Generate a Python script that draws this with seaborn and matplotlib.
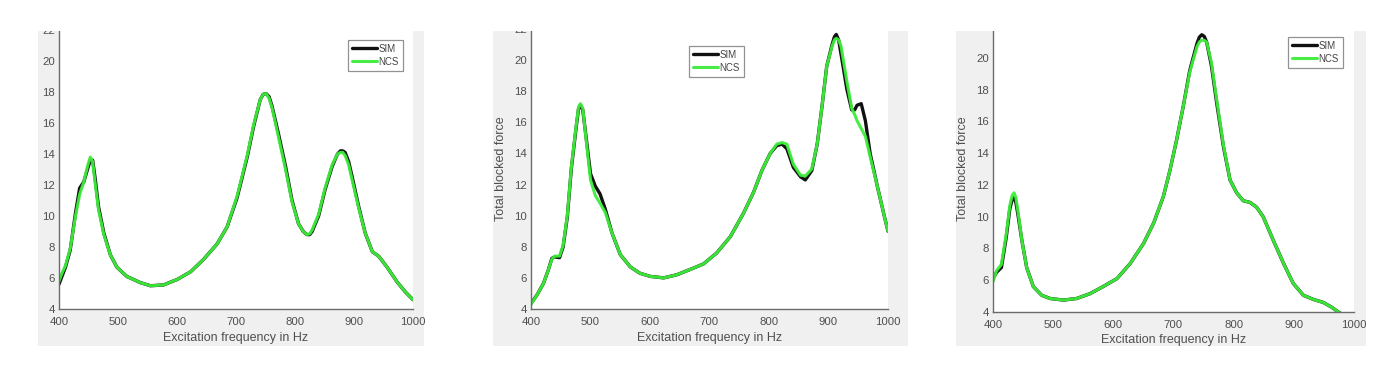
import matplotlib
matplotlib.use("Agg")
import matplotlib.pyplot as plt
from matplotlib.patches import Rectangle
import seaborn as sns

sns.set_style("white")
plt.rcParams['font.family'] = ['Liberation Sans', 'DejaVu Sans']

# ---------------- data ----------------
freq1 = [400, 405, 411, 419, 428, 435, 442, 449, 453, 457, 461, 467, 476, 487, 498, 515, 538, 555, 577,
         600, 623, 645, 668, 685, 702, 719, 730, 741, 746, 751, 756, 761, 772, 784, 795, 806, 814, 820,
         825, 829, 840, 851, 863, 872, 877, 881, 885, 891, 897, 908, 919, 931, 942, 956, 973, 987, 1000]
sim1 = [5.6, 6.1, 6.7, 7.8, 10.2, 11.8, 12.2, 13.1, 13.6, 13.6, 12.5, 10.6, 8.9, 7.5, 6.7, 6.1, 5.7, 5.5, 5.55,
        5.9, 6.4, 7.2, 8.2, 9.3, 11.2, 13.8, 15.8, 17.5, 17.85, 17.9, 17.7, 17.1, 15.3, 13.2, 11.0, 9.5, 9.0, 8.8,
        8.8, 9.0, 10.0, 11.7, 13.2, 14.0, 14.2, 14.2, 14.1, 13.5, 12.5, 10.6, 8.9, 7.7, 7.4, 6.7, 5.75, 5.1, 4.6]
ncs1 = [5.8, 6.3, 6.8, 7.9, 10.0, 11.4, 12.2, 13.3, 13.8, 13.5, 12.2, 10.4, 8.8, 7.5, 6.7, 6.1, 5.7, 5.5, 5.55,
        5.9, 6.4, 7.2, 8.2, 9.3, 11.3, 13.9, 15.9, 17.5, 17.85, 17.9, 17.6, 17.0, 15.1, 13.0, 10.9, 9.5, 9.0, 8.8,
        8.85, 9.1, 10.1, 11.8, 13.3, 14.0, 14.1, 14.1, 13.9, 13.3, 12.3, 10.5, 8.9, 7.7, 7.4, 6.7, 5.75, 5.1, 4.6]

freq2 = [400, 410, 421, 429, 435, 440, 448, 454, 461, 468, 476, 480, 483, 487, 494, 500, 508, 516, 525, 536,
         550, 567, 583, 600, 623, 645, 668, 690, 712, 735, 757, 774, 788, 802, 813, 822, 830, 841, 853,
         861, 872, 881, 889, 897, 906, 910, 913, 917, 921, 931, 939, 944, 948, 955, 962, 970, 982, 993, 1000]
sim2 = [4.35, 4.9, 5.65, 6.5, 7.25, 7.35, 7.3, 8.0, 9.9, 13.1, 15.7, 16.9, 17.1, 16.8, 14.6, 12.7, 11.9, 11.4,
        10.4, 8.9, 7.5, 6.7, 6.3, 6.1, 6.0, 6.2, 6.55, 6.9, 7.6, 8.65, 10.15, 11.5, 12.9, 14.0, 14.5, 14.6,
        14.3, 13.1, 12.5, 12.3, 12.9, 14.6, 17.0, 19.6, 21.0, 21.5, 21.65, 21.3, 20.4, 18.1, 16.8, 16.8, 17.1,
        17.2, 16.1, 14.0, 11.9, 10.1, 9.0]
ncs2 = [4.3, 4.9, 5.65, 6.5, 7.2, 7.4, 7.4, 8.1, 10.0, 13.2, 15.8, 17.0, 17.2, 16.9, 14.4, 12.3, 11.3, 10.8,
        10.2, 8.9, 7.5, 6.7, 6.3, 6.1, 6.0, 6.2, 6.55, 6.9, 7.6, 8.65, 10.15, 11.5, 12.9, 14.0, 14.6, 14.7,
        14.6, 13.3, 12.6, 12.55, 13.0, 14.6, 17.0, 19.6, 20.9, 21.3, 21.4, 21.3, 20.9, 18.6, 16.9, 16.5, 16.1,
        15.6, 15.1, 13.8, 11.9, 10.1, 9.0]

freq3 = [400, 406, 414, 422, 428, 432, 435, 438, 442, 448, 456, 467, 481, 495, 517, 539, 561, 583, 606, 628, 650,
         667, 683, 694, 705, 716, 727, 739, 743, 747, 751, 755, 763, 772, 783, 794, 805, 816, 827, 838, 849, 866,
         883, 899, 916, 932, 949, 963, 974, 987, 1000]
sim3 = [6.1, 6.5, 6.8, 8.7, 10.5, 11.1, 11.2, 10.9, 10.0, 8.5, 6.8, 5.6, 5.05, 4.85, 4.75, 4.85, 5.15, 5.6, 6.1,
        7.05, 8.3, 9.6, 11.25, 12.9, 14.8, 16.9, 19.2, 20.9, 21.3, 21.45, 21.35, 21.0, 19.5, 17.1, 14.4, 12.3,
        11.5, 11.0, 10.9, 10.6, 10.0, 8.5, 7.05, 5.8, 5.05, 4.8, 4.6, 4.3, 4.0, 3.7, 3.4]
ncs3 = [5.9, 6.6, 7.0, 8.9, 10.7, 11.35, 11.5, 11.2, 10.2, 8.5, 6.8, 5.6, 5.05, 4.85, 4.75, 4.85, 5.15, 5.6, 6.1,
        7.05, 8.3, 9.6, 11.25, 12.9, 14.8, 16.9, 19.1, 20.7, 21.0, 21.1, 21.1, 21.0, 19.7, 17.3, 14.5, 12.3,
        11.5, 11.0, 10.9, 10.6, 10.0, 8.5, 7.05, 5.8, 5.05, 4.8, 4.6, 4.3, 4.0, 3.7, 3.4]

xticks = [400, 500, 600, 700, 800, 900, 1000]
series_labels = ["SIM", "NCS"]
xlabel = "Excitation frequency in Hz"
ylabel = "Total blocked force"

# ---------------- layout ----------------
W, H = 1400, 368
fig = plt.figure(figsize=(W / 100, H / 100), dpi=100)
fig.patch.set_facecolor("white")

def fx(px):
    return px / W

def fy(py):
    return 1 - py / H

panels = [
    dict(gray=(38, 31, 424, 346), ax=(59, 413, 309, 30), leg=(348, 40),
         data=(freq1, sim1, ncs1), ylab=False, yticks=[4, 6, 8, 10, 12, 14, 16, 18, 20, 22]),
    dict(gray=(493, 31, 908, 346), ax=(531, 888, 309, 29), leg=(689, 46),
         data=(freq2, sim2, ncs2), ylab=True, yticks=[4, 6, 8, 10, 12, 14, 16, 18, 20, 22]),
    dict(gray=(956, 31, 1366, 346), ax=(993, 1354, 312, 26), leg=(1288, 37),
         data=(freq3, sim3, ncs3), ylab=True, yticks=[4, 6, 8, 10, 12, 14, 16, 18, 20]),
]

GRAY_BG = "#f0f0f0"
AX_COL = "#6b6b6b"
TXT_COL = "#4f4f4f"
GREEN = "#3ded3a"

for p in panels:
    x0, y0, x1, y1 = p["gray"]
    fig.patches.append(Rectangle((fx(x0), fy(y1)), fx(x1 - x0), (y1 - y0) / H,
                                 transform=fig.transFigure, facecolor=GRAY_BG,
                                 edgecolor="none", zorder=-5))
    l, r, yb, yt = p["ax"]
    ax = fig.add_axes([fx(l), fy(yb), fx(r - l), (yb - yt) / H])
    ax.set_facecolor("white")
    f, s, n = p["data"]
    sns.lineplot(x=f, y=s, ax=ax, color="#111111", linewidth=2.4, label=series_labels[0],
                 sort=False, clip_on=True)
    sns.lineplot(x=f, y=n, ax=ax, color=GREEN, linewidth=2.2, label=series_labels[1],
                 sort=False, clip_on=True, alpha=0.95)
    for line in ax.get_lines():
        line.set_solid_joinstyle("round")
        line.set_solid_capstyle("round")
    ax.set_xlim(400, 1000)
    ax.set_ylim(4, 22)
    ax.set_xticks(xticks)
    ax.set_yticks(p["yticks"])
    for side in ["top", "right"]:
        ax.spines[side].set_visible(False)
    for side in ["left", "bottom"]:
        ax.spines[side].set_color(AX_COL)
        ax.spines[side].set_linewidth(1.0)
    ax.tick_params(direction="in", length=3, width=0.8, color=AX_COL,
                   labelsize=8.2, labelcolor=TXT_COL)
    ax.tick_params(axis="x", pad=6)
    ax.tick_params(axis="y", pad=3)
    ax.set_xlabel(xlabel, fontsize=9, color=TXT_COL, labelpad=3)
    if p["ylab"]:
        ax.set_ylabel(ylabel, fontsize=9, color=TXT_COL, labelpad=5)
    else:
        ax.set_ylabel("")
    lx, ly = p["leg"]
    leg = ax.legend(loc="upper left", bbox_to_anchor=(fx(lx), fy(ly)),
                    bbox_transform=fig.transFigure, borderaxespad=0, fontsize=7,
                    frameon=True, fancybox=False, handlelength=2.6, handletextpad=0.15,
                    labelspacing=0.3, borderpad=0.4)
    leg.get_frame().set_edgecolor("#777777")
    leg.get_frame().set_linewidth(0.9)
    for t in leg.get_texts():
        t.set_color("#444444")

# white page above the screenshot crop
fig.patches.append(Rectangle((0, fy(31)), 1, 31 / H, transform=fig.transFigure,
                             facecolor="white", edgecolor="none", zorder=10))

fig.savefig("out.png", dpi=100, facecolor="white")
